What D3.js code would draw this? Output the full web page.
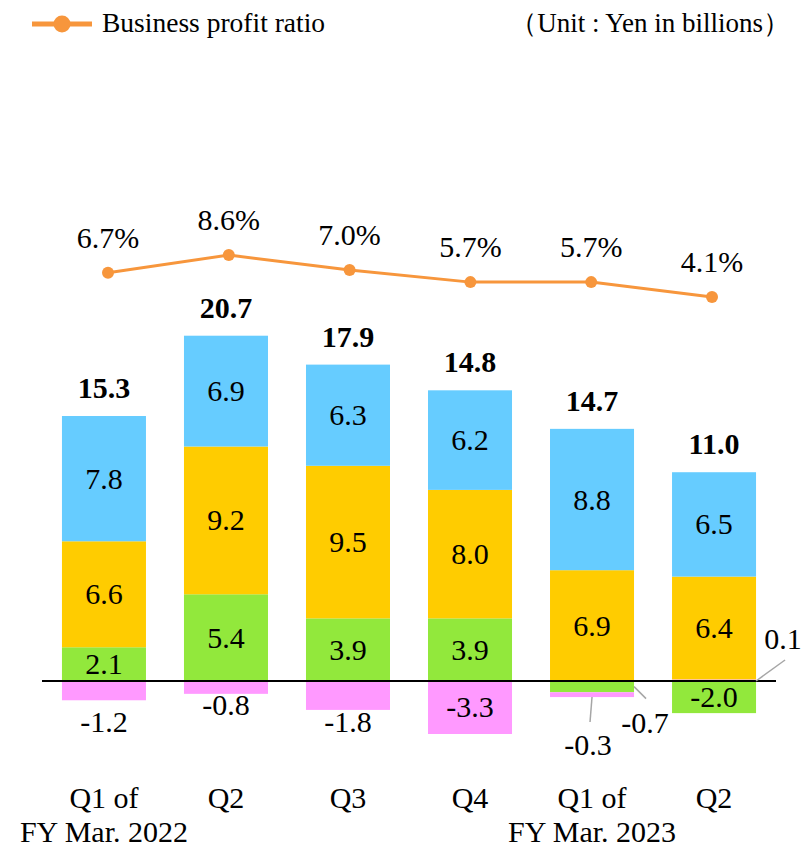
<!DOCTYPE html>
<html><head><meta charset="utf-8">
<script src="https://cdn.jsdelivr.net/npm/d3@7"></script>
<style>body{margin:0;background:#fff}</style>
</head><body>
<svg id="c" width="805" height="850"></svg>
<script>
const categories = ["Q1 of|FY Mar. 2022","Q2","Q3","Q4","Q1 of|FY Mar. 2023","Q2"];
const green  = [2.1, 5.4, 3.9, 3.9, -0.7, -2.0];
const yellow = [6.6, 9.2, 9.5, 8.0, 6.9, 6.4];
const blue   = [7.8, 6.9, 6.3, 6.2, 8.8, 6.5];
const pink   = [-1.2, -0.8, -1.8, -3.3, -0.3, 0.1];
const totals = [15.3, 20.7, 17.9, 14.8, 14.7, 11.0];
const ratio  = [6.7, 8.6, 7.0, 5.7, 5.7, 4.1];

const FONT = "'Liberation Serif', 'Times New Roman', serif";
const colors = {green:"#92E83C", yellow:"#FFCC00", blue:"#66CCFF", pink:"#FF99FF"};
const svg = d3.select("#c");
const x = d3.scaleBand().domain(d3.range(6)).range([40, 778]).paddingInner(0.3115).paddingOuter(0.18);
const bw = x.bandwidth();
const y = d3.scaleLinear().domain([0, 10]).range([681, 520.4]);
const xl = d3.scalePoint().domain(d3.range(6)).range([108, 712]);
const yl = d3.scaleLinear().domain([0, 10]).range([335.3, 242]);

// stack segments: positives pink,green,yellow,blue ; negatives green,pink
const posOrder = [["pink",pink],["green",green],["yellow",yellow],["blue",blue]];
const negOrder = [["green",green],["pink",pink]];
const segs = [];
d3.range(6).forEach(i=>{
  let pos=0, neg=0;
  posOrder.forEach(([k,arr])=>{const v=arr[i]; if(v>0){segs.push({i,k,v,y0:pos,y1:pos+v}); pos+=v;}});
  negOrder.forEach(([k,arr])=>{const v=arr[i]; if(v<0){segs.push({i,k,v,y0:neg,y1:neg+v}); neg+=v;}});
});
svg.append("g").selectAll("rect").data(segs).join("rect")
  .attr("x",d=>x(d.i)).attr("width",bw)
  .attr("y",d=>y(Math.max(d.y0,d.y1))).attr("height",d=>Math.abs(y(d.y0)-y(d.y1)))
  .attr("fill",d=>colors[d.k]);

// zero line
svg.append("line").attr("x1",42).attr("x2",776).attr("y1",y(0)).attr("y2",y(0)).attr("stroke","#000").attr("stroke-width",2);

const fs=30;
function txt(sel){ return sel.style("font-family",FONT).attr("font-size",fs).attr("fill","#000"); }
// inside labels
const inside = segs.filter(d=>Math.abs(d.v)>=2);
txt(svg.append("g").selectAll("text").data(inside).join("text"))
  .attr("x",d=>x(d.i)+bw/2).attr("y",d=>y((d.y0+d.y1)/2)+10)
  .attr("text-anchor","middle").text(d=>d.v.toFixed(1));
// small negative labels below bars (first three quarters)
const belowOff = [32, 21, 22, 0];
const below = segs.filter(d=>d.k==="pink" && d.v<0 && Math.abs(d.v)<2 && d.i<4);
txt(svg.append("g").selectAll("text").data(below).join("text"))
  .attr("x",d=>x(d.i)+bw/2).attr("y",d=>y(d.y1)+belowOff[d.i])
  .attr("text-anchor","middle").text(d=>d.v.toFixed(1));

// callout labels
const c4 = x(4), c5 = x(5);
const gsegQ1 = segs.find(d=>d.i===4&&d.k==="green");
const psegQ1 = segs.find(d=>d.i===4&&d.k==="pink");
const psegQ2 = segs.find(d=>d.i===5&&d.k==="pink");
const lead = svg.append("g").attr("stroke","#a6a6a6").attr("stroke-width",1.5);
lead.append("line").attr("x1",c4+bw/2).attr("y1",y(psegQ1.y1)).attr("x2",c4+bw/2-2).attr("y2",y(psegQ1.y1)+25);
txt(svg.append("text")).attr("x",c4+bw/2-4).attr("y",y(psegQ1.y1)+58).attr("text-anchor","middle").text(psegQ1.v.toFixed(1));
lead.append("line").attr("x1",c4+bw).attr("y1",y((gsegQ1.y0+gsegQ1.y1)/2)).attr("x2",c4+bw+12).attr("y2",y((gsegQ1.y0+gsegQ1.y1)/2)+12);
txt(svg.append("text")).attr("x",c4+bw+11).attr("y",y(gsegQ1.y1)+41).attr("text-anchor","middle").text(gsegQ1.v.toFixed(1));
lead.append("line").attr("x1",c5+bw).attr("y1",y(psegQ2.y0)).attr("x2",c5+bw+29).attr("y2",y(psegQ2.y0)-21);
txt(svg.append("text")).attr("x",c5+bw+27).attr("y",y(psegQ2.y0)-32).attr("text-anchor","middle").text(psegQ2.v.toFixed(1));

// totals
const tops = d3.range(6).map(i=>d3.sum(segs.filter(d=>d.i===i&&d.v>0),d=>d.v));
txt(svg.append("g").selectAll("text").data(totals).join("text"))
  .attr("x",(d,i)=>x(i)+bw/2).attr("y",(d,i)=>y(tops[i])-18)
  .attr("text-anchor","middle").attr("font-weight","bold").text(d=>d.toFixed(1));

// ratio line
const orange="#F7963C";
svg.append("path").datum(ratio).attr("fill","none").attr("stroke",orange).attr("stroke-width",3)
  .attr("d",d3.line().x((d,i)=>xl(i)).y(d=>yl(d)));
svg.append("g").selectAll("circle").data(ratio).join("circle")
  .attr("cx",(d,i)=>xl(i)).attr("cy",d=>yl(d)).attr("r",6).attr("fill",orange);
txt(svg.append("g").selectAll("text").data(ratio).join("text"))
  .attr("x",(d,i)=>xl(i)).attr("y",d=>yl(d)-25)
  .attr("text-anchor","middle").text(d=>d.toFixed(1)+"%");

// x labels
categories.forEach((c,i)=>{
  c.split("|").forEach((p,j)=>{
    txt(svg.append("text")).attr("x",x(i)+bw/2).attr("y",808+j*34).attr("text-anchor","middle").text(p);
  });
});

// legend
svg.append("line").attr("x1",32).attr("x2",92).attr("y1",24).attr("y2",24).attr("stroke",orange).attr("stroke-width",5);
svg.append("circle").attr("cx",62).attr("cy",24).attr("r",8.5).attr("fill",orange);
txt(svg.append("text")).attr("font-size",27.5).attr("x",102).attr("y",32).text("Business profit ratio");
txt(svg.append("text")).attr("font-size",27).attr("x",790).attr("y",32).attr("text-anchor","end").text("（Unit : Yen in billions）");
</script>
</body></html>
